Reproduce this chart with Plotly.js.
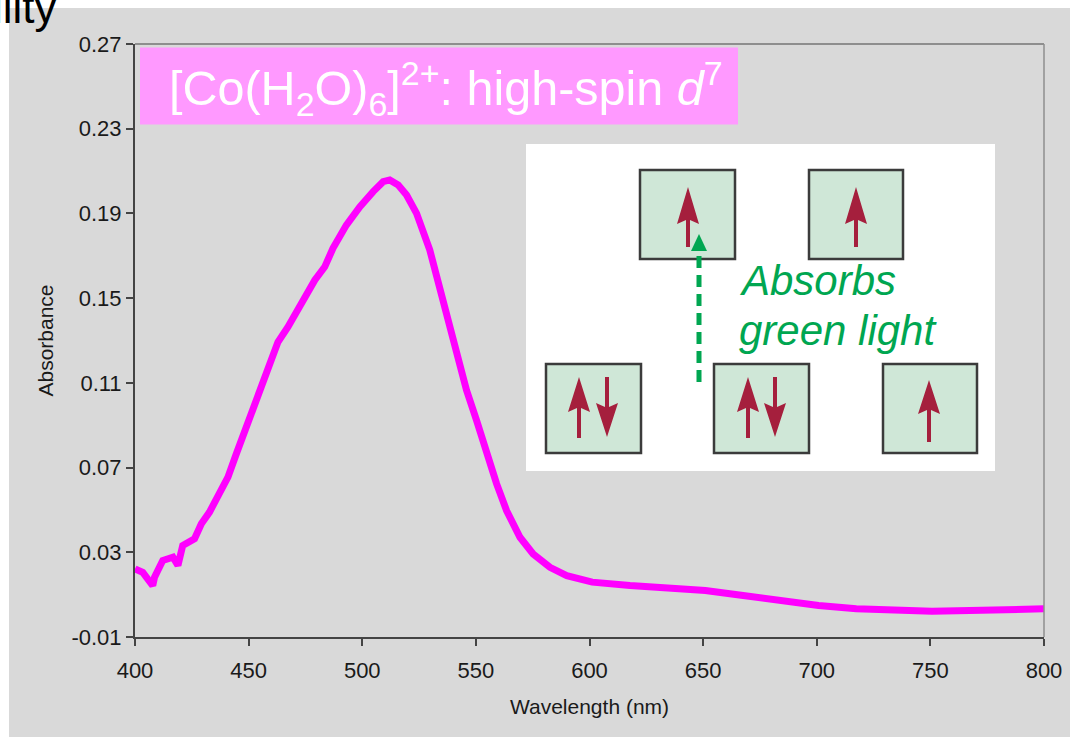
<!DOCTYPE html>
<html><head><meta charset="utf-8">
<script src="https://cdn.plot.ly/plotly-3.0.1.min.js"></script>
<style>html,body{margin:0;padding:0;background:#fff}#chart{width:1070px;height:737px}</style>
</head><body><div id="chart"></div>
<script>
// ---- data ----
const wavelength = [400,403.4,407.8,408.6,412.2,416.7,418.9,421,426.2,429.2,432.8,437.2,440.9,444.6,446.8,449.7,452.6,455.6,459.3,462.9,467.3,471.7,475.4,479.1,483.5,487.1,493,498.9,504.8,509.2,512.1,515.8,519.5,523.9,529.7,534.1,538.5,542.2,545.9,550.3,554.7,559.1,563.5,569.4,575.2,582.6,590,595.8,601.2,617.8,634.4,651,667.6,684.2,700.8,717.4,734,750.7,767.3,783.9,800];
const absorbance = [0.0222,0.0205,0.0143,0.0182,0.0261,0.0277,0.0238,0.0332,0.0364,0.0435,0.049,0.0576,0.0655,0.0765,0.0828,0.0923,0.1017,0.1097,0.1207,0.1293,0.1364,0.1443,0.1522,0.1585,0.1648,0.1735,0.1845,0.1931,0.2003,0.205,0.2058,0.2034,0.1987,0.19,0.1728,0.1539,0.1364,0.1207,0.1065,0.0923,0.0765,0.0624,0.0497,0.0371,0.0292,0.0229,0.019,0.0174,0.0159,0.0143,0.0135,0.012,0.0096,0.0072,0.0049,0.0033,0.0025,0.0022,0.0025,0.0026,0.0033];
const xTickVals = [400,450,500,550,600,650,700,750,800];
const yTickVals = [-0.01,0.03,0.07,0.11,0.15,0.19,0.23,0.27];
const yTickText = ['-0.01','0.03','0.07','0.11','0.15','0.19','0.23','0.27'];
const chartTitle = '[Co(H<sub>2</sub>O)<sub>6</sub>]<sup>2+</sup>: high-spin <i>d</i><sup>7</sup>';
const xTitle = 'Wavelength (nm)';
const yTitle = 'Absorbance';
const insetLine1 = 'Absorbs';
const insetLine2 = 'green light';
const cornerText = 'ility';

// ---- layout geometry (pixels -> paper) ----
const W = 1070, H = 737, ML = 135, MR = 26, MT = 44, MB = 100;
const PW = W - ML - MR, PH = H - MT - MB;
const px = x => (x - ML) / PW;
const py = y => (H - MB - y) / PH;

function rect(x0, y0, x1, y1, fill, lc, lw) {
  return {type: 'rect', xref: 'paper', yref: 'paper', x0: px(x0), x1: px(x1), y0: py(y1), y1: py(y0),
    fillcolor: fill, line: {color: lc || fill, width: lw || 0}, layer: 'above'};
}
function pathShape(pts, fill) {
  const d = pts.map((p, i) => (i ? 'L ' : 'M ') + px(p[0]) + ',' + py(p[1])).join(' ') + ' Z';
  return {type: 'path', xref: 'paper', yref: 'paper', path: d, fillcolor: fill, line: {width: 0}, layer: 'above'};
}
const RED = '#a51f3d';
function upArrow(cx, tip, he, bot) {
  return pathShape([[cx-2, bot], [cx-2, he], [cx-11, he+4], [cx, tip], [cx+11, he+4], [cx+2, he], [cx+2, bot]], RED);
}
function downArrow(cx, top, he, tip) {
  return pathShape([[cx-2, top], [cx-2, he], [cx-11, he-4], [cx, tip], [cx+11, he-4], [cx+2, he], [cx+2, top]], RED);
}
const BOXFILL = '#cfe7d7', BOXLINE = '#3b3b3b';
const GREEN = '#00a651';

const shapes = [
  // white page edges
  rect(-5, -5, 1080, 8, '#ffffff'),
  rect(-5, -5, 9, 745, '#ffffff'),
  // plot frame top / right
  {type: 'line', xref: 'paper', yref: 'paper', x0: 0, x1: 1, y0: 1, y1: 1, line: {color: '#8e8e8e', width: 2}},
  {type: 'line', xref: 'paper', yref: 'paper', x0: 1, x1: 1, y0: 0, y1: 1, line: {color: '#8e8e8e', width: 1.5}},
  // pink title box
  rect(140, 47.5, 738, 124.5, '#ff99ff'),
  // inset
  rect(526, 144, 995, 471, '#ffffff'),
  rect(640, 170, 735, 259, BOXFILL, BOXLINE, 2.5),
  rect(809, 170, 903, 259, BOXFILL, BOXLINE, 2.5),
  rect(546, 364, 641, 453, BOXFILL, BOXLINE, 2.5),
  rect(714, 364, 809, 453, BOXFILL, BOXLINE, 2.5),
  rect(883, 364, 977, 453, BOXFILL, BOXLINE, 2.5),
  upArrow(688, 187, 220, 247),
  upArrow(856, 187, 220, 247),
  upArrow(579, 377, 408, 438),
  downArrow(607, 377, 407, 437),
  upArrow(748, 377, 408, 438),
  downArrow(775, 377, 407, 437),
  upArrow(929, 380, 410, 442),
  // green dashed arrow
  {type: 'line', xref: 'paper', yref: 'paper', x0: px(699), x1: px(699), y0: py(382), y1: py(250),
    line: {color: GREEN, width: 5, dash: '12px,7px'}, layer: 'above'},
  pathShape([[691, 251], [699, 234], [707, 251]], GREEN)
];

const annotations = [
  {xref: 'paper', yref: 'paper', x: px(167), y: py(88), xanchor: 'left', yanchor: 'middle', showarrow: false,
    text: chartTitle, font: {family: 'Liberation Sans, Arial, sans-serif', size: 48.5, color: '#ffffff'}},
  {xref: 'paper', yref: 'paper', x: px(737), y: py(280), xanchor: 'left', yanchor: 'middle', showarrow: false,
    text: '<i>' + insetLine1 + '</i>', font: {family: 'Liberation Sans, Arial, sans-serif', size: 42, color: GREEN}},
  {xref: 'paper', yref: 'paper', x: px(737), y: py(330), xanchor: 'left', yanchor: 'middle', showarrow: false,
    text: '<i>' + insetLine2 + '</i>', font: {family: 'Liberation Sans, Arial, sans-serif', size: 42, color: GREEN}},
  {xref: 'paper', yref: 'paper', x: px(59), y: py(8), xanchor: 'right', yanchor: 'middle', showarrow: false,
    text: cornerText, font: {family: 'Liberation Sans, Arial, sans-serif', size: 44, color: '#000000'}}
];

const trace = {
  x: wavelength, y: absorbance, type: 'scatter', mode: 'lines',
  line: {color: '#ff00ff', width: 7}, hoverinfo: 'x+y'
};

const axisFont = {family: 'Liberation Sans, Arial, sans-serif', size: 22, color: '#1a1a1a'};
const titleFont = {family: 'Liberation Sans, Arial, sans-serif', size: 21, color: '#1a1a1a'};
const layout = {
  width: W, height: H,
  margin: {l: ML, r: MR, t: MT, b: MB, pad: 0},
  paper_bgcolor: '#d9d9d9', plot_bgcolor: '#d9d9d9',
  showlegend: false,
  xaxis: {range: [400, 800], tickvals: xTickVals, ticks: 'outside', ticklen: 7, tickwidth: 2, tickcolor: '#444',
    ticklabelstandoff: 6,
    showline: true, linecolor: '#444', linewidth: 2, showgrid: false, zeroline: false,
    tickfont: axisFont, title: {text: xTitle, font: titleFont, standoff: 17}},
  yaxis: {range: [-0.01, 0.27], tickvals: yTickVals, ticktext: yTickText, ticks: 'outside', ticklen: 7, tickwidth: 2,
    tickcolor: '#444', showline: true, linecolor: '#444', linewidth: 2, showgrid: false, zeroline: false,
    tickfont: axisFont, title: {text: yTitle, font: titleFont, standoff: 12}},
  shapes: shapes,
  annotations: annotations
};

Plotly.newPlot('chart', [trace], layout, {displayModeBar: false, staticPlot: true});
</script>
</body></html>
